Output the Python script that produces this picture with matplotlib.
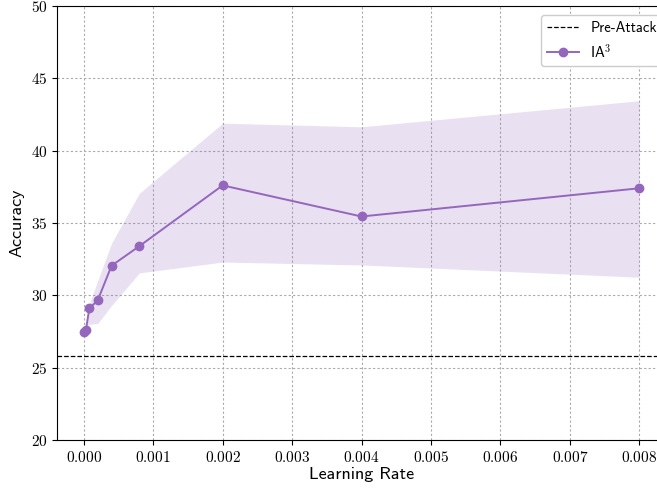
import matplotlib
matplotlib.use("Agg")
import matplotlib.pyplot as plt
from matplotlib.ticker import FuncFormatter, MultipleLocator

plt.rcParams['mathtext.fontset'] = 'cm'
plt.rcParams['font.family'] = ['cmss10', 'DejaVu Sans']
plt.rcParams['axes.unicode_minus'] = False

# learning-rate sweep for IA3
learning_rates = [0.00001, 0.00003, 0.00008, 0.0002, 0.0004, 0.0008, 0.002, 0.004, 0.008]
accuracy = [27.45, 27.6, 29.1, 29.65, 32.05, 33.4, 37.6, 35.45, 37.4]
acc_lower = [27.45, 27.6, 28.0, 28.05, 29.3, 31.55, 32.3, 32.1, 31.25]
acc_upper = [27.45, 27.6, 29.4, 31.0, 33.6, 37.05, 41.9, 41.65, 43.45]
pre_attack = 25.8

color = '#9467bd'

fig = plt.figure(figsize=(6.57, 4.88), dpi=100)
ax = fig.add_axes([57 / 657, 48 / 488, 610 / 657, 434 / 488])

ax.axhline(pre_attack, color='black', linestyle='--', linewidth=0.9, label='Pre-Attack')
ax.plot(learning_rates, accuracy, color=color, marker='o', markersize=6,
        linewidth=1.4, label='IA$^3$')
ax.fill_between(learning_rates, acc_lower, acc_upper, color=color, alpha=0.2,
                linewidth=0)

ax.set_xlim(-0.000386, 0.0084)
ax.set_ylim(20, 50)
ax.xaxis.set_major_locator(MultipleLocator(0.001))
ax.yaxis.set_major_locator(MultipleLocator(5))
ax.xaxis.set_major_formatter(FuncFormatter(lambda v, p: f'${v:.3f}$'))
ax.yaxis.set_major_formatter(FuncFormatter(lambda v, p: f'${v:.0f}$'))
ax.tick_params(labelsize=11)

ax.grid(True, color='#aaaaaa', linestyle=(0, (2, 2)), linewidth=0.8)
ax.set_axisbelow(True)

ax.set_xlabel('Learning Rate', fontsize=13, labelpad=2)
ax.set_ylabel('Accuracy', fontsize=13, labelpad=4)

ax.legend(loc='upper right', bbox_to_anchor=(1.0 + 3 / 610, 1.0 - 2 / 434),
          fontsize=10.5, framealpha=1, handlelength=2.2)

fig.savefig('out.png', dpi=100)
